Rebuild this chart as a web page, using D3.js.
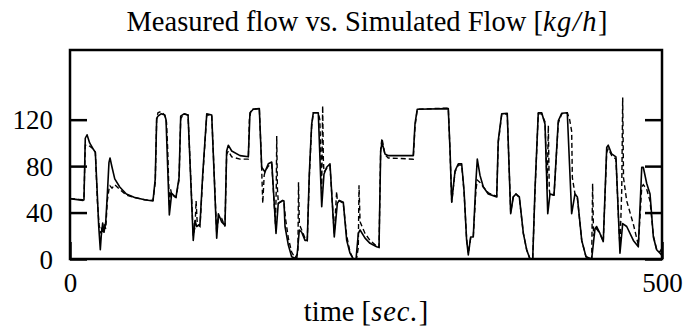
<!DOCTYPE html>
<html><head><meta charset="utf-8">
<script src="https://cdn.jsdelivr.net/npm/d3@7"></script>
<style>
body{margin:0;background:#fff;}
svg{display:block;}
text{font-family:"Liberation Serif","Times New Roman",serif;fill:#000;}
</style></head>
<body>
<svg id="chart" width="684" height="332"></svg>
<script>
// ---- data (time in sec, flow in kg/h) ----
const measuredT = [0,11,11.8,12.9,14.4,16.6,19.4,21.4,23.1,24.2,25.6,26.4,27.6,28.7,30.2,31.5,32.9,33.8,35.5,37.8,42,47.6,54.6,63.1,70.1,72,73.2,74.3,76.9,80,81.1,83.9,85.9,89.5,92.1,93.5,96.3,99.7,104.1,105.6,107,109.8,112.1,115.5,119.7,123.9,125.3,128.1,130.9,132.3,133.7,136.6,143.6,150.6,152,154.8,159.9,161.9,164.7,167.5,170.4,174,175.9,179.6,180.7,181.6,184.4,187.2,191.5,193.7,195.7,198.5,200.4,202.1,204.1,205.5,209.7,212.6,214.5,216.8,219.6,223.2,225.8,227.5,230.8,233.7,236.5,239.3,241.6,243.5,245,249.2,253.4,259,261,262.4,263.5,266,268.8,289.9,291.4,293.3,319.5,321,322.4,325.2,328,330.8,332.8,335,336.4,338.4,340.6,342.9,344,346.3,349.1,353.3,360.4,361.7,364.6,369.3,372.2,374.4,376.7,379.5,382.9,385.7,388.5,390.8,392.7,395.5,398.4,401.2,403.5,405.4,408.8,412.4,415.3,420,423.7,426.5,428.5,432.2,435.8,440.6,443.4,444.8,447.6,450.4,453.3,454.6,457.5,461.1,464.5,466.8,470.2,475.8,480,482.9,484.2,487.1,489.9,492.7,495.5,498.3,500];
const measuredV = [52,50.5,51,104,107,100,95,92,55,29,8,20,31,23,32,55,83,87,79,69,62,56,53,51,50,69,121,123,125,124,120,38,56.5,53,70,123,125,124,16,33,28,30,73,125,124,18,39,32,29,93,98,93,89,88,126,129,129.5,79,75,82,83.5,22,48,50.5,50,28,12,2,0,25,23,16,16,73,116,126,126,45,73,79,82,19,48,50.5,49,16,5,0,0,22,25,18,13.5,10.5,10,93,100.5,90.5,89,89,116.5,129,129.5,93,49,76,82,82,59,16,3.5,19,19,68,86,72,62,56,53.5,102,125,125.5,39,53.5,56,53.5,22,8,0,0,59,126,126,116,39,56,55,119,125.5,126,39,56,53.5,16,2,0,26,28,22,15,96,98,90.5,88,5,30.5,28,16,10.5,79,79,65,56,19,8,5,3];

const simulatedT = [0,11,11.8,12.9,15.5,19.4,21.4,23.1,24.5,25.6,26.4,27.6,28.7,30.2,31.5,32.9,33.8,35.5,37.8,42,47.6,54.6,63.1,70.1,72,73.2,74.3,76.9,80,81.5,82.5,83.5,84,85,86,89.5,92.1,93.5,96.3,99.7,104.1,105.6,106.5,107.5,109.8,112.1,115.5,119.7,123.9,125.3,128.1,130.9,132.3,133.7,136.6,143.6,150.6,151.5,153,159.9,161.5,162.8,164,165,167.5,170.4,173.5,174.2,174.6,175.2,176,179.6,180.7,182,184.4,187.2,190,192.5,193,193.7,195.7,198.5,200.4,202.1,204.1,205.5,209.7,211,212.6,213.4,214,214.5,216.8,219.6,223.2,225.2,225.8,227.5,230.8,233.7,236.5,239.3,242,243.5,244.1,245,249.2,253.4,259,261,262.4,263.5,266,268.8,289.9,291.4,293.3,319.5,321,322.4,325.2,328,330.8,332.8,335,336.4,338.4,340.6,342.9,344,346.3,349.1,353.3,360.4,361.7,364.6,369.3,372.2,374.4,376.7,379.5,382.9,385.7,388.5,390.8,392.7,395.5,398.4,401.2,403,404,404.8,405.4,408.8,412.4,415.3,420,422,423.7,424.3,426.5,428.5,432.2,435.8,440.6,441.4,442.2,443.4,444.8,447.6,450.4,453.3,454.6,457.5,461.1,463.5,464.5,466,466.8,467.5,470.2,475.8,480,482.9,484.2,487.1,489.9,492.7,495.5,498.3,500];
const simulatedV = [52,51,52,98,98,95,92,50,30,22,27,22,30,26,50,60,63,61,64,60,55,53,51,50.5,66,120,126,127,124,118,95,60,45,60,55,53,68,121,125,124,20,28,50,30,28,70,124,124,22,35,35,28,90,93,88,86,86,120,129,129.5,90,48,72,76,80,82,30,60,106,60,48,50,49,35,18,6,1,5,66,30,25,18,16,70,114,126,126,120,60,132,85,75,78,80,22,58,50,50,48,20,6,0,0,10,63.5,32,22,16,11,10,95,104,90,87,86,114,129,130,92,49,75,81,81,58,17,5,18,19,60,68,66,62,57,54,100,124,125,40,54,56,53,22,8,0,0,57,125,125,118,60,115,60,55,55,117,125,126,120,110,70,56,53,16,2,0,65,20,24,26,22,15,92,95,89,86,30,10,60,139,70,50,30,12,62,64,60,50,20,8,6,10];

const yTickValues = [0, 40, 80, 120];
const xTickValues = [0, 500];

// ---- layout ----
const svg = d3.select("#chart");
const mLeft = 70, mRight = 662, mTop = 50, mBottom = 259;
const x = d3.scaleLinear().domain([0, 500]).range([mLeft, mRight]);
const y = d3.scaleLinear().domain([0, 180]).range([mBottom, mTop]);

const measured = measuredT.map((t, i) => [t, measuredV[i]]);
const simulated = simulatedT.map((t, i) => [t, simulatedV[i]]);

const line = d3.line().x(d => x(d[0])).y(d => y(d[1]));

svg.append("defs").append("clipPath").attr("id", "clip")
  .append("rect").attr("x", mLeft).attr("y", mTop).attr("width", mRight - mLeft).attr("height", mBottom - mTop);

const g = svg.append("g").attr("clip-path", "url(#clip)");
g.append("path").datum(simulated).attr("d", line)
  .attr("fill", "none").attr("stroke", "#000").attr("stroke-width", 1.4)
  .attr("stroke-dasharray", "5,3");
g.append("path").datum(measured).attr("d", line)
  .attr("fill", "none").attr("stroke", "#000").attr("stroke-width", 1.6)
  .attr("stroke-linejoin", "round");

// axes
const fs = 27, fsLabel = 28.5;
const yAxisL = d3.axisLeft(y).tickValues(yTickValues).tickSize(-17).tickSizeOuter(0).tickPadding(17);
const gl = svg.append("g").attr("transform", `translate(${mLeft},0)`).call(yAxisL);
const yAxisR = d3.axisRight(y).tickValues(yTickValues).tickSize(-17).tickSizeOuter(0).tickFormat("");
const gr = svg.append("g").attr("transform", `translate(${mRight},0)`).call(yAxisR);
const xAxis = d3.axisBottom(x).tickValues(xTickValues).tickSize(-17).tickSizeOuter(0).tickPadding(14);
const gb = svg.append("g").attr("transform", `translate(0,${mBottom})`).call(xAxis);

[gl, gr, gb].forEach(a => {
  a.select(".domain").remove();
  a.selectAll(".tick line").attr("stroke", "#000").attr("stroke-width", 2.5);
  a.selectAll("text").attr("font-family", '"Liberation Serif", serif').attr("font-size", fs).attr("fill", "#000");
});
gl.selectAll("text").attr("dy", "0.34em");

svg.append("rect").attr("x", mLeft).attr("y", mTop).attr("width", mRight - mLeft).attr("height", mBottom - mTop)
  .attr("fill", "none").attr("stroke", "#000").attr("stroke-width", 2.5);

// title
const title = svg.append("text").attr("x", 367).attr("y", 31).attr("text-anchor", "middle").attr("font-size", fsLabel);
title.append("tspan").text("Measured flow vs. Simulated Flow [");
title.append("tspan").attr("font-style", "italic").attr("letter-spacing", 1.5).text("kg/h");
title.append("tspan").text("]");

const xl = svg.append("text").attr("x", 366).attr("y", 321).attr("text-anchor", "middle").attr("font-size", fsLabel);
xl.append("tspan").text("time [");
xl.append("tspan").attr("font-style", "italic").attr("letter-spacing", 1).text("sec.");
xl.append("tspan").text("]");
</script>
</body></html>
